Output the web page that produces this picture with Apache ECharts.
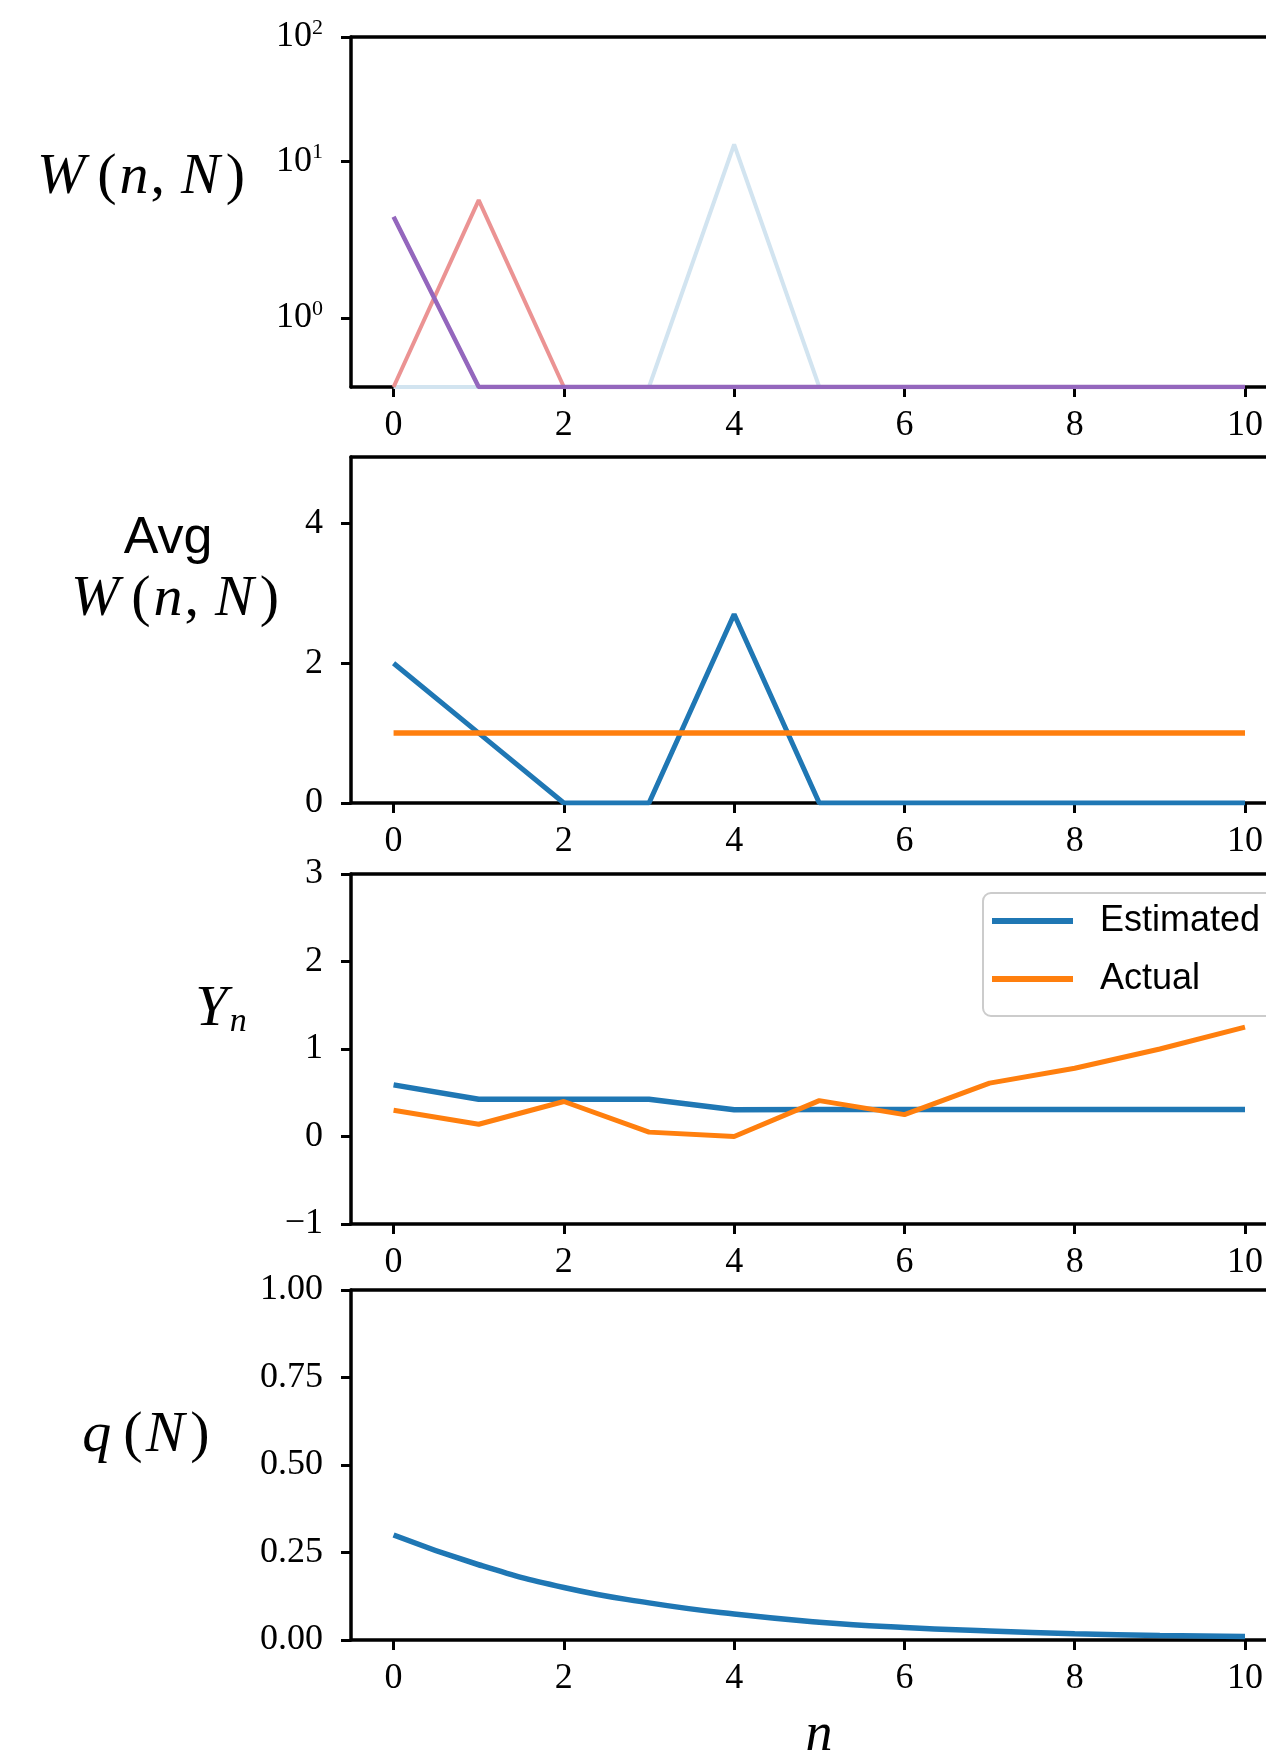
<!DOCTYPE html>
<html>
<head>
<meta charset="utf-8">
<script src="https://cdn.jsdelivr.net/npm/echarts@6/dist/echarts.min.js"></script>
<style>
html,body{margin:0;padding:0;background:#fff;}
#chart{width:1266px;height:1758px;}
</style>
</head>
<body>
<div id="chart"></div>
<script>
// ---------- data ----------
const nValues = [0, 1, 2, 3, 4, 5, 6, 7, 8, 9, 10];
const xTicks = [0, 2, 4, 6, 8, 10];

// panel 1: W(n, N) (symlog axis)
const wLightBlue = [0, 0, 0, 0, 13.7, 0, 0, 0, 0, 0, 0];
const wRed       = [0, 4.9, 0, 0, 0, 0, 0, 0, 0, 0, 0];
const wPurple    = [3.6, 0, 0, 0, 0, 0, 0, 0, 0, 0, 0];
const wTicks = [1, 10, 100];
const wTickExp = ['0', '1', '2'];

// panel 2: Avg W(n, N)
const avgEstimated = [2.0, 1.0, 0, 0, 2.7, 0, 0, 0, 0, 0, 0];
const avgActual    = [1, 1, 1, 1, 1, 1, 1, 1, 1, 1, 1];
const avgTicks = [0, 2, 4];

// panel 3: Y_n
const yEstimated = [0.59, 0.425, 0.425, 0.425, 0.305, 0.31, 0.31, 0.31, 0.31, 0.31, 0.31];
const yActual    = [0.30, 0.14, 0.40, 0.05, 0.0, 0.41, 0.25, 0.61, 0.78, 1.0, 1.25];

// panel 4: q(N)
const qValues = [0.30, 0.215, 0.15, 0.106, 0.074, 0.051, 0.036, 0.026, 0.018, 0.013, 0.010];

// ---------- symlog scale (linthresh 2, linscale 1, base 10) ----------
const LT = 2, LS = 1 / (1 - 1 / 10);
function symlog(v) {
  const a = Math.abs(v);
  const t = a <= LT ? a * LS : LT * (LS + Math.log10(a / LT));
  return v < 0 ? -t : t;
}

const pairs = (ys, f) => nValues.map((n, i) => [n, f ? f(ys[i]) : ys[i]]);

const SERIF = 'Liberation Serif';
const SPINE = 3.5;
const tickFont = { fontFamily: SERIF, fontSize: 36, color: '#000' };
// visible x window: the plot box continues past the right edge of the picture
const X_MIN = -0.5, X_MAX = 10.245;
const grids = [
  { top: 37,   height: 350 },
  { top: 457,  height: 346 },
  { top: 874,  height: 350 },
  { top: 1290, height: 350 }
].map(g => Object.assign({ left: 351, right: 0, show: false }, g));

function xAxis(i) {
  return {
    type: 'value', gridIndex: i, min: X_MIN, max: X_MAX, position: 'bottom',
    axisLine: { show: true, onZero: false, lineStyle: { color: '#000', width: SPINE } },
    axisTick: { show: true, length: 10, lineStyle: { color: '#000', width: 3 }, customValues: xTicks },
    axisLabel: Object.assign({ margin: 21, customValues: xTicks, formatter: v => String(v) }, tickFont),
    splitLine: { show: false }
  };
}
function xTop(i) {
  return {
    type: 'value', gridIndex: i, min: X_MIN, max: X_MAX, position: 'top',
    axisLine: { show: true, onZero: false, lineStyle: { color: '#000', width: SPINE } },
    axisTick: { show: false }, axisLabel: { show: false }, splitLine: { show: false }
  };
}
function yBase(i) {
  return {
    type: 'value', gridIndex: i,
    axisLine: { show: true, onZero: false, lineStyle: { color: '#000', width: SPINE } },
    axisTick: { show: true, length: 10, lineStyle: { color: '#000', width: 3 } },
    axisLabel: Object.assign({ margin: 28 }, tickFont),
    splitLine: { show: false }
  };
}

const wTickPos = wTicks.map(symlog);
const y0 = yBase(0);
y0.min = 0; y0.max = symlog(100);
y0.axisTick.customValues = wTickPos;
y0.axisLabel.customValues = wTickPos;
y0.axisLabel.formatter = function (v) {
  let k = 0, best = 1e9;
  wTickPos.forEach((p, j) => { if (Math.abs(p - v) < best) { best = Math.abs(p - v); k = j; } });
  return '{b|10}{s|' + wTickExp[k] + '}';
};
y0.axisLabel.rich = {
  b: { fontFamily: SERIF, fontSize: 36, lineHeight: 40, color: '#000' },
  s: { fontFamily: SERIF, fontSize: 22, lineHeight: 22, verticalAlign: 'top', color: '#000' }
};

const y1 = yBase(1);
y1.min = 0; y1.max = 4.95;
y1.axisTick.customValues = avgTicks;
y1.axisLabel.customValues = avgTicks;
y1.axisLabel.formatter = v => String(v);

const y2 = yBase(2);
y2.min = -1; y2.max = 3; y2.interval = 1;
y2.axisLabel.formatter = v => (v < 0 ? '\u2212' + Math.abs(v) : String(v));

const y3 = yBase(3);
y3.min = 0; y3.max = 1; y3.interval = 0.25;
y3.axisLabel.formatter = v => v.toFixed(2);

const BLUE = '#1f77b4', ORANGE = '#ff7f0e';
function line(name, data, xi, color, width, extra) {
  return Object.assign({
    name, type: 'line', xAxisIndex: xi, yAxisIndex: xi, data,
    showSymbol: false, symbol: 'none', animation: false,
    lineStyle: { color, width }, itemStyle: { color }
  }, extra || {});
}

const mathRich = {
  i: { fontFamily: SERIF, fontStyle: 'italic', fontSize: 58, color: '#000' },
  r: { fontFamily: SERIF, fontSize: 58, color: '#000' },
  lp: { fontFamily: SERIF, fontSize: 58, color: '#000', padding: [0, 3, 0, 12] },
  cm: { fontFamily: SERIF, fontSize: 58, color: '#000', padding: [0, 16, 0, 2] },
  rp: { fontFamily: SERIF, fontSize: 58, color: '#000', padding: [0, 0, 0, 6] },
  sub: { fontFamily: SERIF, fontStyle: 'italic', fontSize: 34, color: '#000', padding: [24, 0, 0, 2] },
  sans: { fontFamily: 'Liberation Sans', fontSize: 52, color: '#000' }
};
const W_TEXT = '{i|W}{lp|(}{i|n}{cm|,}{i|N}{rp|)}';
function label(text, x, y, align) {
  return { type: 'text', x, y, style: { text, rich: mathRich, align: align || 'center', verticalAlign: 'middle' }, silent: true };
}

const option = {
  backgroundColor: '#fff',
  animation: false,
  grid: grids,
  xAxis: [0, 1, 2, 3].map(xAxis).concat([0, 1, 2, 3].map(xTop)),
  yAxis: [y0, y1, y2, y3],
  legend: {
    data: ['Estimated', 'Actual'],
    left: 983, top: 893, orient: 'vertical',
    icon: 'rect', itemWidth: 81, itemHeight: 6, itemGap: 22,
    padding: [10, 60, 19, 9],
    borderColor: '#cccccc', borderWidth: 2, borderRadius: 8, backgroundColor: '#fff',
    textStyle: { fontFamily: 'Liberation Sans', fontSize: 36, color: '#000', padding: [0, 0, 0, 22] },
    selectedMode: false
  },
  series: [
    line('W light', pairs(wLightBlue, symlog), 0, '#d2e4f0', 4),
    line('W red', pairs(wRed, symlog), 0, '#eb9393', 4),
    line('W purple', pairs(wPurple, symlog), 0, '#9467bd', 4.5),
    line('Avg estimated', pairs(avgEstimated), 1, BLUE, 5),
    line('Avg actual', pairs(avgActual), 1, ORANGE, 5.5),
    line('Estimated', pairs(yEstimated), 2, BLUE, 5.5),
    line('Actual', pairs(yActual), 2, ORANGE, 5),
    line('q', pairs(qValues), 3, BLUE, 5.5, { smooth: 0.5 })
  ],
  graphic: [
    label(W_TEXT, 141, 178),
    label('{sans|Avg}', 168, 539),
    label(W_TEXT, 175, 600),
    label('{i|Y}{sub|n}', 221, 1010),
    label('{i|q}{lp|(}{i|N}{rp|)}', 146, 1436),
    { type: 'text', x: 819, y: 1736, style: { text: 'n', font: 'italic 54px "Liberation Serif"', fill: '#000', align: 'center', verticalAlign: 'middle' }, silent: true }
  ]
};

const chart = echarts.init(document.getElementById('chart'), null, { renderer: 'canvas', width: 1266, height: 1758 });
chart.setOption(option);
</script>
</body>
</html>
